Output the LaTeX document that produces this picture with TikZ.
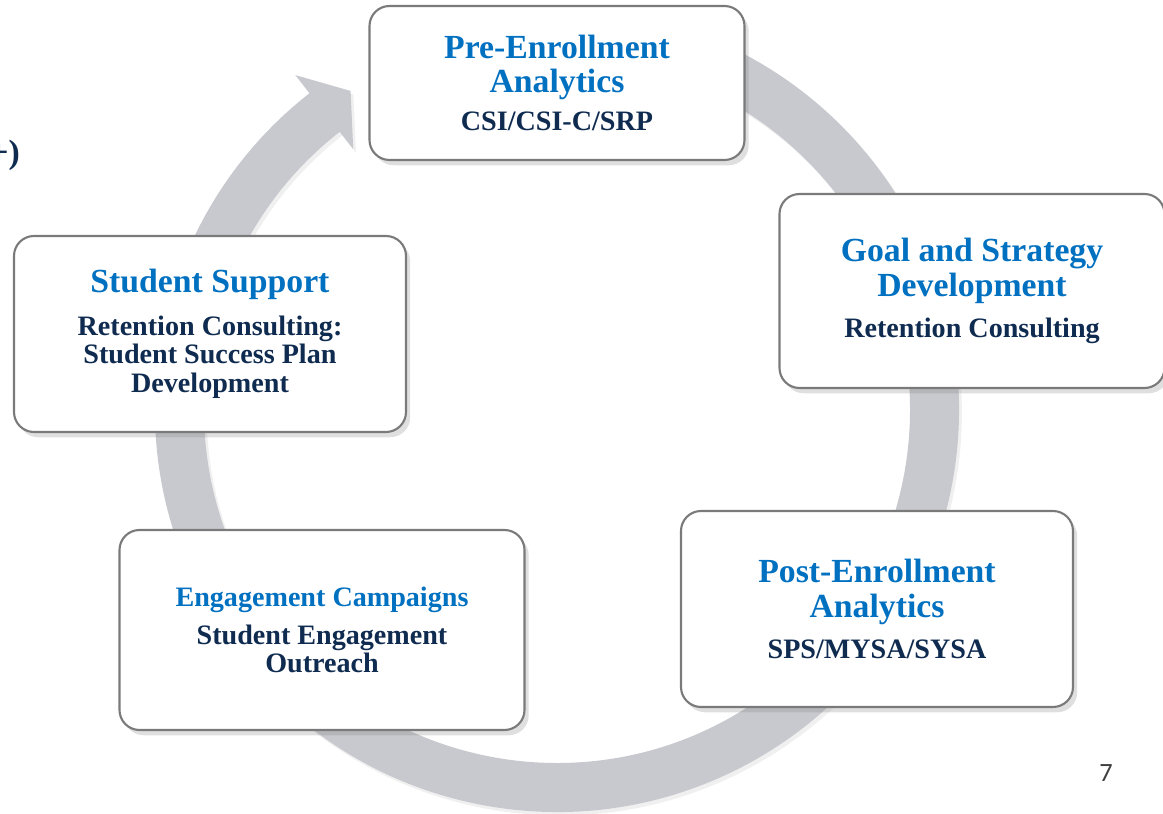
\documentclass[tikz,border=0pt]{standalone}
\usepackage{fontspec}
\setmainfont{Liberation Serif}
\newfontfamily\slidenumfont{Carlito}
\usepackage{tikz}
\usetikzlibrary{shadows}
\definecolor{headblue}{HTML}{0070C0}
\definecolor{navy}{HTML}{0F2B50}
\definecolor{ringgray}{HTML}{C8C9CE}
\definecolor{boxline}{HTML}{7A7A7A}
\definecolor{numgray}{HTML}{3F3F3F}
% fixed line pitch inside the boxes, whatever the descenders
\newcommand{\stagefont}{\bfseries\fontsize{8.0}{8.1}\selectfont\lineskiplimit=-10pt\relax}

\begin{document}
\begin{tikzpicture}[
  stagebox/.style={draw=boxline,line width=0.6pt,fill=white,rounded corners=0.2cm,
    align=center,inner sep=0pt,text=navy,font=\stagefont,
    drop shadow={shadow xshift=1.2pt,shadow yshift=-1.5pt,opacity=0.25}},
  ringfill/.style={fill=ringgray,
    drop shadow={shadow xshift=0.8pt,shadow yshift=-1pt,opacity=0.12}}]
\useasboundingbox (0,0) rectangle (11.63,8.14);

% the cycle: a thick ring ending in one arrow head at the top left
\begin{scope}[shift={(5.57,4.04)}]
\fill[ringfill] (80:4.02) arc[start angle=80,end angle=-232,radius=4.02]
  -- (128:4.25) -- (122.9:3.80) -- (128:3.31) -- (128:3.53)
  arc[start angle=-232,end angle=80,radius=3.53] -- cycle;
\end{scope}

% the five stages
\node[stagebox,minimum width=3.75cm,minimum height=1.54cm] (pre) at (5.57,7.31)
 {\color{headblue}\fontsize{9.6}{8.1}\selectfont Pre-Enrollment\\[1.7pt]
  \color{headblue}\fontsize{9.6}{8.1}\selectfont Analytics\\[2.6pt]
  CSI/CSI-C/SRP};
\node[stagebox,minimum width=3.85cm,minimum height=1.94cm] (goal) at (9.72,5.23)
 {\color{headblue}\fontsize{9.6}{8.1}\selectfont Goal and Strategy\\[1.7pt]
  \color{headblue}\fontsize{9.6}{8.1}\selectfont Development\\[3.6pt]
  Retention Consulting};
\node[stagebox,minimum width=3.92cm,minimum height=1.96cm] (post) at (8.77,2.05)
 {\color{headblue}\fontsize{9.6}{8.1}\selectfont Post-Enrollment\\[1.7pt]
  \color{headblue}\fontsize{9.6}{8.1}\selectfont Analytics\\[3.6pt]
  SPS/MYSA/SYSA};
\node[stagebox,minimum width=4.05cm,minimum height=2.00cm] (engage) at (3.22,1.84)
 {\color{headblue}Engagement Campaigns\\[2.8pt]
  Student Engagement\\Outreach};
\node[stagebox,minimum width=3.92cm,minimum height=1.96cm] (support) at (2.10,4.80)
 {\color{headblue}\fontsize{9.6}{8.1}\selectfont Student Support\\[4pt]
  Retention Consulting:\\Student Success Plan\\Development};

% cut-off text at the left edge and the slide number
\node[anchor=east,inner sep=0pt,text=navy,font=\bfseries\fontsize{9.6}{9.8}\selectfont] (cut) at (0.205,6.59) {+)};
\node[text=numgray,font=\slidenumfont\fontsize{7.5}{9}\selectfont] (num) at (11.06,0.41) {7};
\end{tikzpicture}
\end{document}
